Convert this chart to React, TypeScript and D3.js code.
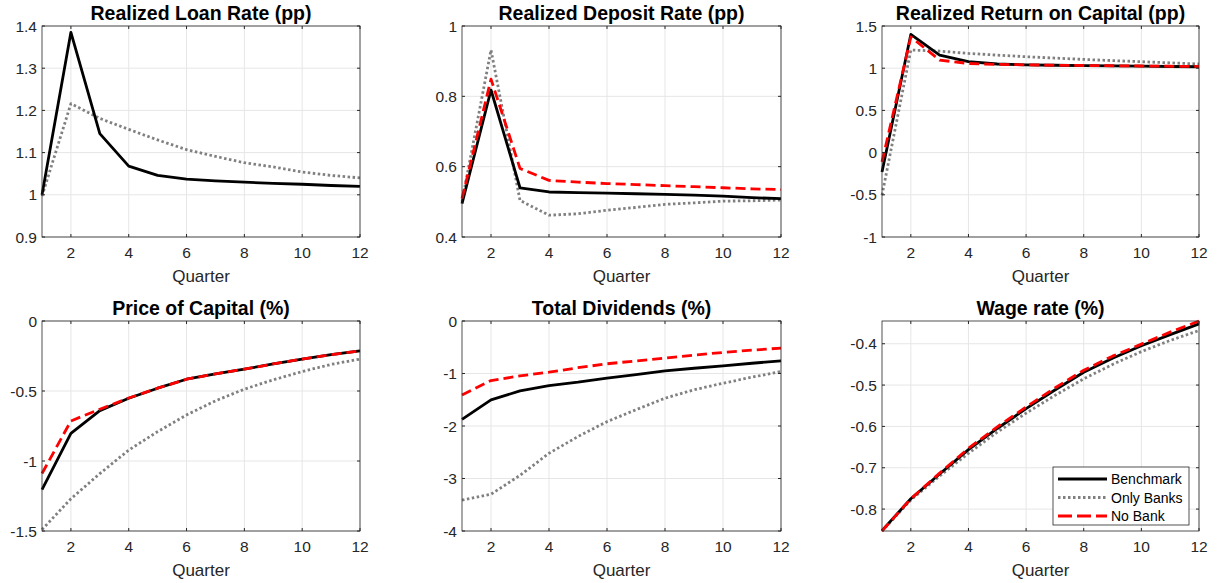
import React, { useEffect, useRef } from 'react';
import * as d3 from 'd3';

const quarters = [1, 2, 3, 4, 5, 6, 7, 8, 9, 10, 11, 12];

// Realized Loan Rate (pp)
const loanBench = [1.0, 1.385, 1.145, 1.068, 1.046, 1.037, 1.033, 1.030, 1.027, 1.025, 1.022, 1.020];
const loanBanks = [0.997, 1.216, 1.181, 1.155, 1.13, 1.107, 1.091, 1.076, 1.066, 1.054, 1.046, 1.040];

// Realized Deposit Rate (pp)
const depBench = [0.495, 0.818, 0.540, 0.528, 0.526, 0.525, 0.523, 0.521, 0.519, 0.516, 0.512, 0.509];
const depBanks = [0.50, 0.932, 0.504, 0.462, 0.466, 0.476, 0.484, 0.493, 0.497, 0.502, 0.503, 0.505];
const depNoBank = [0.509, 0.849, 0.595, 0.561, 0.556, 0.552, 0.549, 0.546, 0.543, 0.540, 0.537, 0.535];

// Realized Return on Capital (pp)
const rkBench = [-0.229, 1.40, 1.156, 1.077, 1.05, 1.04, 1.035, 1.03, 1.027, 1.024, 1.02, 1.017];
const rkBanks = [-0.505, 1.215, 1.203, 1.175, 1.155, 1.136, 1.12, 1.104, 1.09, 1.077, 1.063, 1.05];
const rkNoBank = [-0.11, 1.37, 1.096, 1.056, 1.045, 1.04, 1.035, 1.032, 1.029, 1.026, 1.023, 1.02];

// Price of Capital (%)
const pkBench = [-1.204, -0.802, -0.640, -0.552, -0.48, -0.416, -0.378, -0.344, -0.307, -0.272, -0.241, -0.213];
const pkBanks = [-1.49, -1.27, -1.09, -0.922, -0.79, -0.671, -0.57, -0.487, -0.42, -0.361, -0.31, -0.272];
const pkNoBank = [-1.089, -0.714, -0.63, -0.55, -0.48, -0.416, -0.378, -0.344, -0.307, -0.272, -0.241, -0.213];

// Total Dividends (%)
const divBench = [-1.873, -1.503, -1.331, -1.229, -1.166, -1.09, -1.02, -0.949, -0.9, -0.854, -0.805, -0.758];
const divBanks = [-3.414, -3.30, -2.94, -2.52, -2.20, -1.917, -1.69, -1.47, -1.31, -1.185, -1.07, -0.962];
const divNoBank = [-1.408, -1.134, -1.045, -0.975, -0.89, -0.815, -0.76, -0.707, -0.65, -0.599, -0.555, -0.516];

// Wage rate (%)
const wBench = [-0.852, -0.775, -0.715, -0.656, -0.605, -0.557, -0.512, -0.469, -0.435, -0.405, -0.378, -0.352];
const wBanks = [-0.853, -0.778, -0.72, -0.665, -0.614, -0.568, -0.525, -0.485, -0.45, -0.419, -0.392, -0.368];
const wNoBank = [-0.853, -0.775, -0.713, -0.653, -0.601, -0.553, -0.507, -0.464, -0.43, -0.401, -0.372, -0.345];

const xTicks = [2, 4, 6, 8, 10, 12];
const seriesNames = ['Benchmark', 'Only Banks', 'No Bank'];

const styles = [
  { color: '#000000', dash: null },
  { color: '#808080', dash: '2.5,2.5' },
  { color: '#ff0000', dash: '10,5' },
];

const panels = [
  { title: 'Realized Loan Rate (pp)', x: 42, y: 26, w: 318, h: 211, domain: [0.9, 1.4], ticks: [0.9, 1, 1.1, 1.2, 1.3, 1.4], series: [loanBench, loanBanks, null] },
  { title: 'Realized Deposit Rate (pp)', x: 462, y: 26, w: 319, h: 211, domain: [0.4, 1], ticks: [0.4, 0.6, 0.8, 1], series: [depBench, depBanks, depNoBank] },
  { title: 'Realized Return on Capital (pp)', x: 882, y: 26, w: 317, h: 211, domain: [-1, 1.5], ticks: [-1, -0.5, 0, 0.5, 1, 1.5], series: [rkBench, rkBanks, rkNoBank] },
  { title: 'Price of Capital (%)', x: 42, y: 321, w: 318, h: 210, domain: [-1.5, 0], ticks: [-1.5, -1, -0.5, 0], series: [pkBench, pkBanks, pkNoBank] },
  { title: 'Total Dividends (%)', x: 462, y: 321, w: 319, h: 210, domain: [-4, 0], ticks: [-4, -3, -2, -1, 0], series: [divBench, divBanks, divNoBank] },
  { title: 'Wage rate (%)', x: 882, y: 321, w: 317, h: 210, domain: [-0.853, -0.345], ticks: [-0.8, -0.7, -0.6, -0.5, -0.4], series: [wBench, wBanks, wNoBank] },
];

const FONT = '"Liberation Sans", Arial, Helvetica, sans-serif';

export default function App() {
  const ref = useRef<SVGSVGElement>(null);

  useEffect(() => {
    const svg = d3.select(ref.current);
    svg.selectAll('*').remove();

    panels.forEach((p, pi) => {
      const g = svg.append('g').attr('transform', `translate(${p.x},${p.y})`);
      const xScale = d3.scaleLinear().domain([1, 12]).range([0, p.w]);
      const yScale = d3.scaleLinear().domain(p.domain).range([p.h, 0]);

      g.append('rect').attr('width', p.w).attr('height', p.h).attr('fill', '#fff');

      // grid
      g.selectAll('.gx').data(xTicks).enter().append('line')
        .attr('x1', d => xScale(d)).attr('x2', d => xScale(d))
        .attr('y1', 0).attr('y2', p.h)
        .attr('stroke', '#e6e6e6').attr('stroke-width', 1);
      g.selectAll('.gy').data(p.ticks).enter().append('line')
        .attr('x1', 0).attr('x2', p.w)
        .attr('y1', d => yScale(d)).attr('y2', d => yScale(d))
        .attr('stroke', '#e6e6e6').attr('stroke-width', 1);

      // lines: only banks first, then benchmark, red dashed on top
      const line = d3.line<number>()
        .x((_, i) => xScale(quarters[i]))
        .y(d => yScale(d));
      const order = [1, 0, 2];
      const plot = g.append('g');
      order.forEach(si => {
        const s = p.series[si];
        if (!s) return;
        const path = plot.append('path')
          .datum(s)
          .attr('d', line)
          .attr('fill', 'none')
          .attr('stroke', styles[si].color)
          .attr('stroke-width', 2.8)
          .attr('stroke-linejoin', 'round');
        if (styles[si].dash) path.attr('stroke-dasharray', styles[si].dash);
      });

      // axes box
      g.append('rect').attr('width', p.w).attr('height', p.h)
        .attr('fill', 'none').attr('stroke', '#262626').attr('stroke-width', 0.8);

      // tick marks
      g.selectAll('.tx').data(xTicks).enter().append('line')
        .attr('x1', d => xScale(d)).attr('x2', d => xScale(d))
        .attr('y1', p.h).attr('y2', p.h - 3)
        .attr('stroke', '#262626');
      g.selectAll('.tx2').data(xTicks).enter().append('line')
        .attr('x1', d => xScale(d)).attr('x2', d => xScale(d))
        .attr('y1', 0).attr('y2', 3)
        .attr('stroke', '#262626');
      g.selectAll('.ty').data(p.ticks).enter().append('line')
        .attr('x1', 0).attr('x2', 3)
        .attr('y1', d => yScale(d)).attr('y2', d => yScale(d))
        .attr('stroke', '#262626');
      g.selectAll('.ty2').data(p.ticks).enter().append('line')
        .attr('x1', p.w).attr('x2', p.w - 3)
        .attr('y1', d => yScale(d)).attr('y2', d => yScale(d))
        .attr('stroke', '#262626');

      // tick labels
      g.selectAll('.lx').data(xTicks).enter().append('text')
        .attr('x', d => xScale(d)).attr('y', p.h + 21)
        .attr('text-anchor', 'middle')
        .attr('font-family', FONT).attr('font-size', 15.5).attr('fill', '#262626')
        .text(d => String(d));
      g.selectAll('.ly').data(p.ticks).enter().append('text')
        .attr('x', -5).attr('y', d => yScale(d) + 5.5)
        .attr('text-anchor', 'end')
        .attr('font-family', FONT).attr('font-size', 15.5).attr('fill', '#262626')
        .text(d => d3.format('~g')(d).replace('−', '-'));

      g.append('text')
        .attr('x', p.w / 2).attr('y', p.h + 45)
        .attr('text-anchor', 'middle')
        .attr('font-family', FONT).attr('font-size', 17).attr('fill', '#262626')
        .text('Quarter');

      g.append('text')
        .attr('x', p.w / 2).attr('y', -6)
        .attr('text-anchor', 'middle')
        .attr('font-family', FONT).attr('font-size', 19.5).attr('font-weight', 'bold').attr('fill', '#000')
        .text(p.title);

      if (pi === 5) {
        const lg = g.append('g').attr('transform', `translate(${p.w - 146},${p.h - 64})`);
        lg.append('rect').attr('width', 136).attr('height', 58)
          .attr('fill', '#fff').attr('stroke', '#262626').attr('stroke-width', 0.8);
        seriesNames.forEach((name, i) => {
          const yy = 12 + i * 18.5;
          const l = lg.append('line')
            .attr('x1', 5).attr('x2', 54).attr('y1', yy).attr('y2', yy)
            .attr('stroke', styles[i].color).attr('stroke-width', 2.8);
          if (styles[i].dash) l.attr('stroke-dasharray', i === 2 ? '14,5' : styles[i].dash);
          lg.append('text')
            .attr('x', 58).attr('y', yy + 5)
            .attr('font-family', FONT).attr('font-size', 14).attr('fill', '#000')
            .text(name);
        });
      }
    });
  }, []);

  return (
    <div style={{ position: 'absolute', left: 0, top: 0 }}>
      <svg ref={ref} width={1222} height={583} style={{ display: 'block', background: '#fff' }} />
    </div>
  );
}
